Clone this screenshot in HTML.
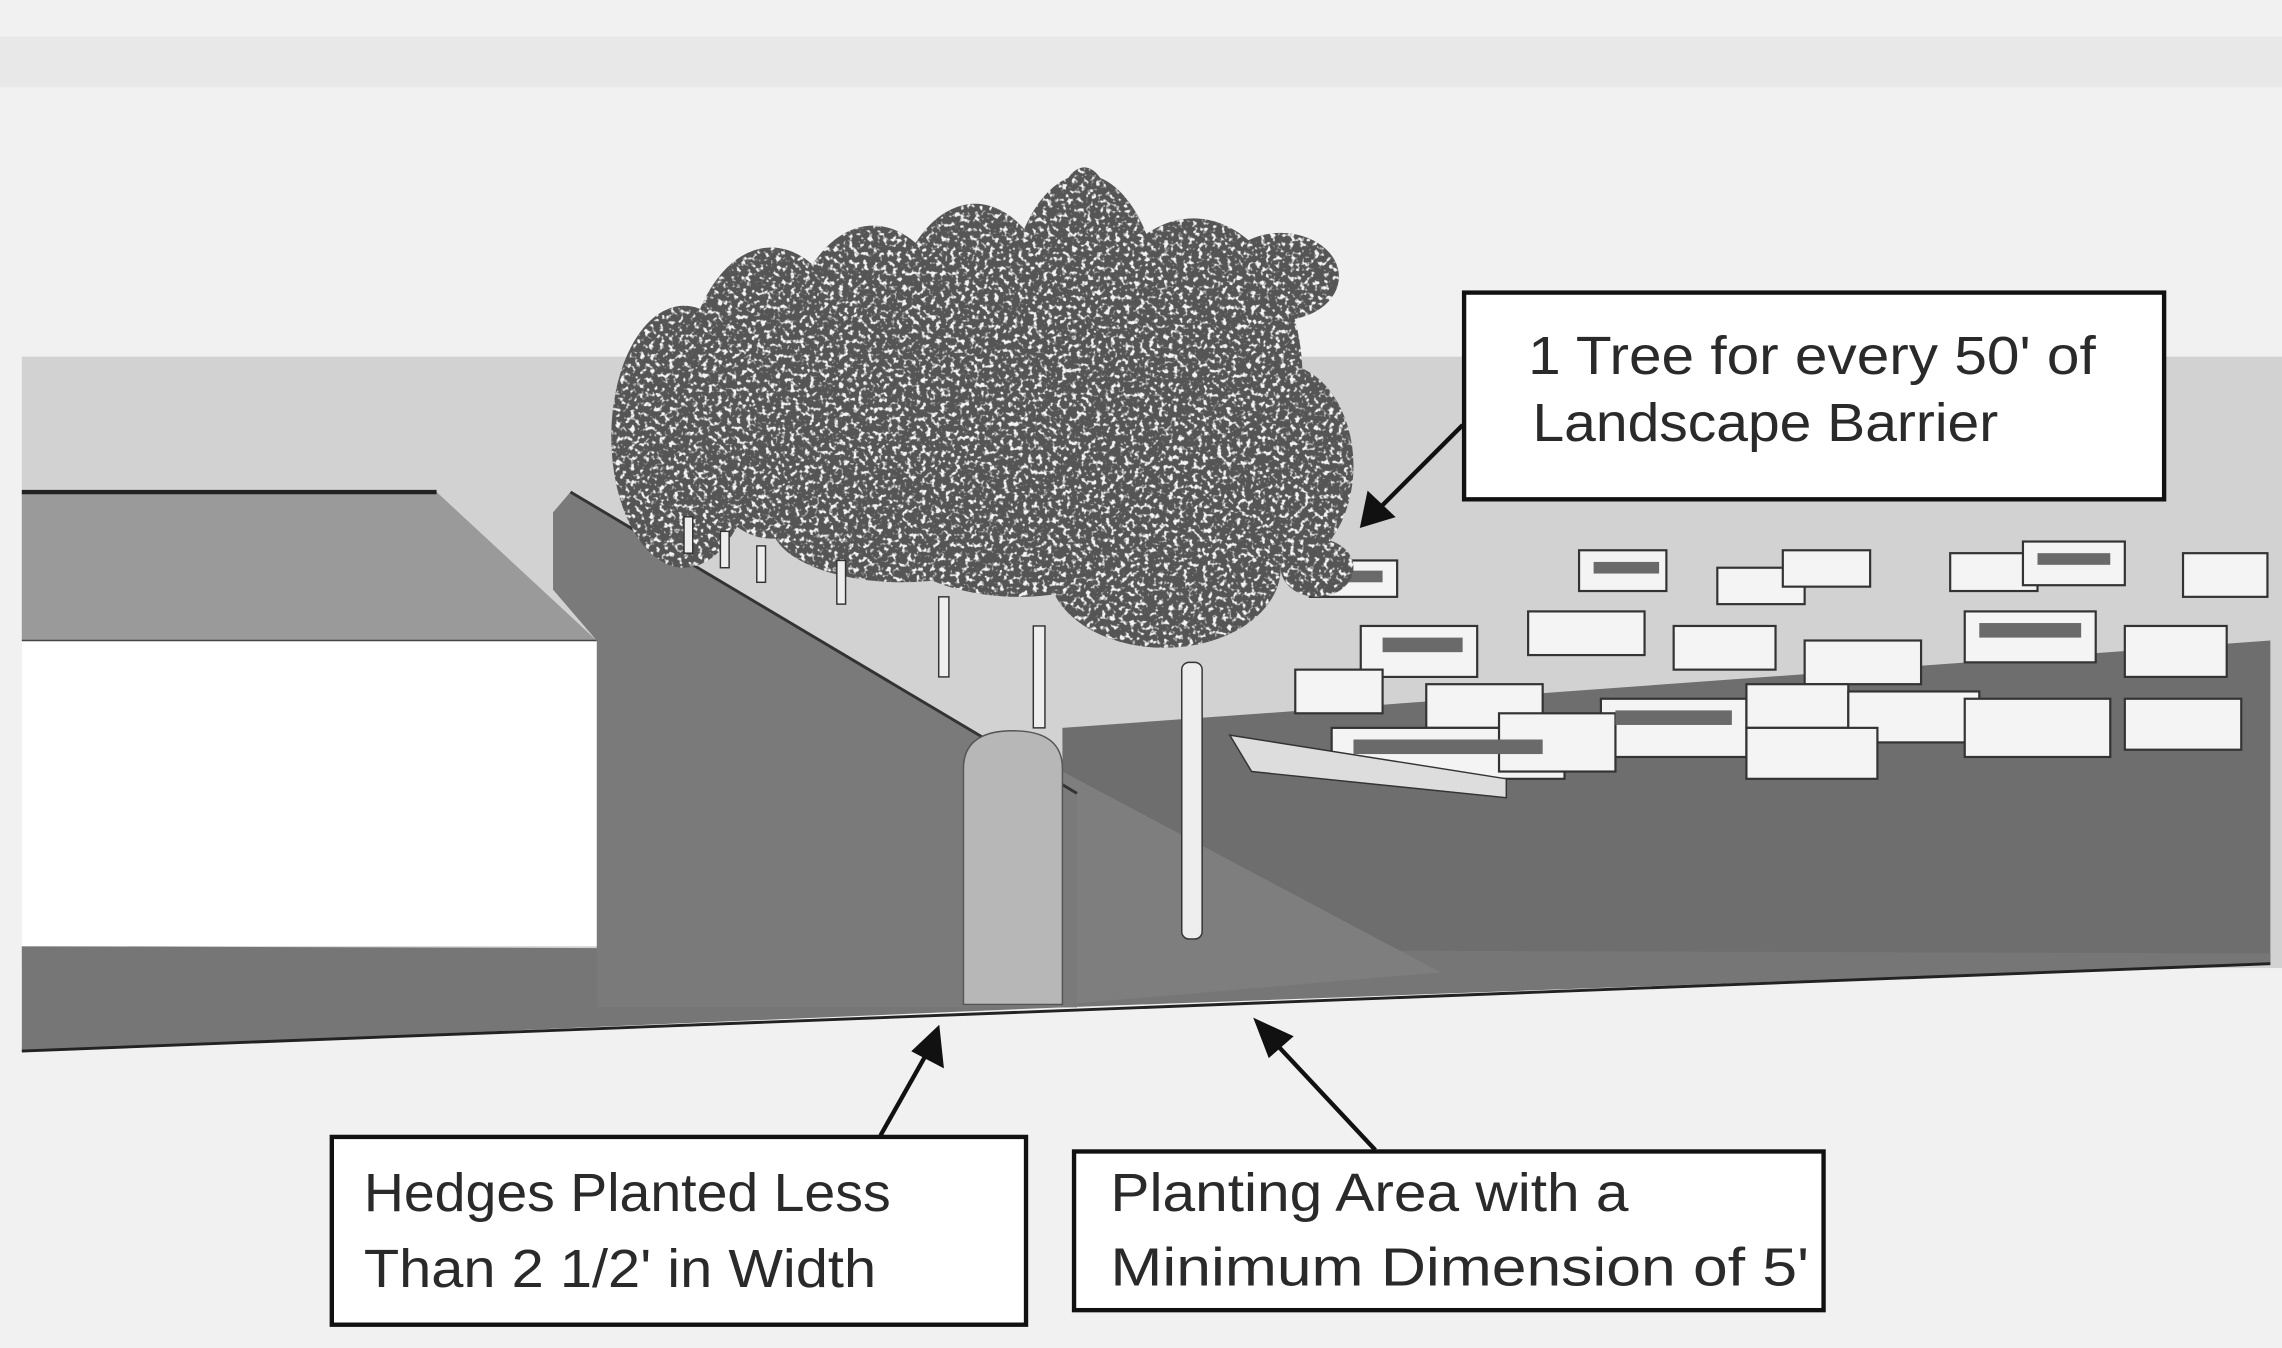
<!DOCTYPE html>
<html><head><meta charset="utf-8"><style>html,body{margin:0;padding:0;background:#f2f2f2}svg{display:block}</style></head>
<body>
<svg width="2282" height="1348" viewBox="0 0 1568 926" preserveAspectRatio="none" xmlns="http://www.w3.org/2000/svg" xmlns:xlink="http://www.w3.org/1999/xlink">
<defs>
<filter id="leaf" x="0" y="0" width="100%" height="100%">
<feTurbulence type="fractalNoise" baseFrequency="0.3" numOctaves="2" seed="3" result="n"/>
<feColorMatrix in="n" type="matrix" values="0 0 0 0 0.9  0 0 0 0 0.9  0 0 0 0 0.9  0 0 0 -6 2.8" result="d"/>
<feComposite in="d" in2="SourceGraphic" operator="in"/>
</filter>
<g id="canopy">
<ellipse cx="470" cy="300" rx="50" ry="90"/><ellipse cx="530" cy="270" rx="60" ry="100"/><ellipse cx="600" cy="250" rx="60" ry="95"/><ellipse cx="670" cy="240" rx="60" ry="100"/><ellipse cx="745" cy="230" rx="55" ry="110"/><ellipse cx="820" cy="260" rx="75" ry="110"/><ellipse cx="880" cy="320" rx="50" ry="70"/><ellipse cx="700" cy="340" rx="110" ry="70"/><ellipse cx="620" cy="360" rx="90" ry="40"/><ellipse cx="800" cy="390" rx="80" ry="55"/><ellipse cx="745" cy="150" rx="18" ry="35"/><ellipse cx="880" cy="190" rx="40" ry="30"/><ellipse cx="905" cy="390" rx="25" ry="20"/>
</g>
</defs>
<rect x="0" y="0" width="1568" height="926" fill="#f1f1f1"/>
<rect x="0" y="25" width="1568" height="35" fill="#e8e8e8"/>
<rect x="15" y="245" width="1553" height="420" fill="#d2d2d2"/>
<polygon points="730,500 1560,440 1560,662 730,690" fill="#6e6e6e"/>
<polygon points="15,650 1560,655 1560,662 730,692 15,722" fill="#767676"/>
<line x1="15" y1="722" x2="1560" y2="662" stroke="#222" stroke-width="2"/>
<polygon points="730,530 990,668 730,690" fill="#7e7e7e"/>
<polygon points="380,352 392,338 740,545 740,692 410,692 410,440 380,405" fill="#7a7a7a"/>
<line x1="392" y1="338" x2="740" y2="545" stroke="#333" stroke-width="2"/>
<polygon points="15,338 300,338 410,440 15,440" fill="#9a9a9a"/>
<line x1="15" y1="338" x2="300" y2="338" stroke="#222" stroke-width="3"/>
<rect x="15" y="440" width="395" height="210" fill="#ffffff"/>
<line x1="15" y1="440" x2="410" y2="440" stroke="#444" stroke-width="1"/>
<path d="M662,690 L662,528 Q662,502 696,502 Q730,502 730,528 L730,690 Z" fill="#b7b7b7" stroke="#555" stroke-width="1"/>
<g fill="#f4f4f4" stroke="#333" stroke-width="1.5">
<rect x="900" y="385" width="60" height="25"/><rect x="1085" y="378" width="60" height="28"/><rect x="1180" y="390" width="60" height="25"/><rect x="1225" y="378" width="60" height="25"/><rect x="1340" y="380" width="60" height="26"/><rect x="1390" y="372" width="70" height="30"/><rect x="1500" y="380" width="58" height="30"/>
<rect x="935" y="430" width="80" height="35"/><rect x="1050" y="420" width="80" height="30"/><rect x="1150" y="430" width="70" height="30"/><rect x="1240" y="440" width="80" height="30"/><rect x="1350" y="420" width="90" height="35"/><rect x="1460" y="430" width="70" height="35"/>
<rect x="890" y="460" width="60" height="30"/><rect x="980" y="470" width="80" height="30"/><rect x="1100" y="480" width="100" height="40"/><rect x="1200" y="470" width="70" height="30"/><rect x="1270" y="475" width="90" height="35"/><rect x="1350" y="480" width="100" height="40"/><rect x="1460" y="480" width="80" height="35"/>
<rect x="915" y="500" width="160" height="35"/><rect x="1030" y="490" width="80" height="40"/><rect x="1200" y="500" width="90" height="35"/>
</g>
<g fill="#6a6a6a"><rect x="905" y="392" width="45" height="8"/><rect x="1095" y="386" width="45" height="8"/><rect x="1400" y="380" width="50" height="8"/><rect x="950" y="438" width="55" height="10"/><rect x="1360" y="428" width="70" height="10"/><rect x="1110" y="488" width="80" height="10"/><rect x="930" y="508" width="130" height="10"/></g>
<polygon points="845,505 1035,535 1035,548 860,530" fill="#ddd" stroke="#333"/>
<use xlink:href="#canopy" fill="#555"/>
<use xlink:href="#canopy" fill="#fff" filter="url(#leaf)"/>
<g fill="#eee" stroke="#333" stroke-width="1">
<rect x="812" y="455" width="14" height="190" rx="5"/>
<rect x="710" y="430" width="8" height="70"/><rect x="645" y="410" width="7" height="55"/><rect x="575" y="385" width="6" height="30"/>
<rect x="470" y="355" width="6" height="25"/><rect x="495" y="365" width="6" height="25"/><rect x="520" y="375" width="6" height="25"/>
</g>
<g fill="#fff" stroke="#111" stroke-width="3">
<rect x="1006" y="201" width="481" height="142"/>
<rect x="228" y="781" width="477" height="129"/>
<rect x="738" y="791" width="515" height="109"/>
</g>
<g font-family="'Liberation Sans', sans-serif" font-size="37" fill="#2a2a2a">
<text x="1050" y="257" textLength="390" lengthAdjust="spacingAndGlyphs">1 Tree for every 50' of</text>
<text x="1053" y="303" textLength="320" lengthAdjust="spacingAndGlyphs">Landscape Barrier</text>
<text x="250" y="832" textLength="362" lengthAdjust="spacingAndGlyphs">Hedges Planted Less</text>
<text x="250" y="884" textLength="352" lengthAdjust="spacingAndGlyphs">Than 2 1/2' in Width</text>
<text x="763" y="832" textLength="356" lengthAdjust="spacingAndGlyphs">Planting Area with a</text>
<text x="763" y="883" textLength="480" lengthAdjust="spacingAndGlyphs">Minimum Dimension of 5'</text>
</g>
<g stroke="#111" stroke-width="3" fill="#111">
<line x1="1005" y1="292" x2="945" y2="352"/>
<polygon points="935,362 940,338 958,355" stroke-width="1"/>
<line x1="605" y1="780" x2="640" y2="718"/>
<polygon points="645,705 648,733 627,722" stroke-width="1"/>
<line x1="945" y1="790" x2="872" y2="712"/>
<polygon points="862,700 888,712 872,726" stroke-width="1"/>
</g>
</svg>
</body></html>
